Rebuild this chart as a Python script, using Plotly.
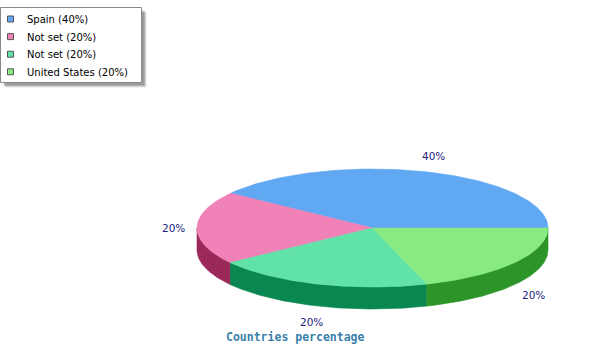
import numpy as np
import plotly.graph_objects as go

# ---- data ----
legend_labels = ["Spain (40%)", "Not set (20%)", "Not set (20%)", "United States (20%)"]
values = [40, 20, 20, 20]
slice_text = ["40%", "20%", "20%", "20%"]
title_text = "Countries percentage"

top_colors = ["#60a8f2", "#f082b8", "#60e2a8", "#88ea82"]
side_colors = ["#4a80c0", "#9a2858", "#088850", "#2c9428"]

# ---- geometry (pixel space) ----
CX, CY = 372.5, 228.0
RX, RY = 175.5, 59.0
DEPTH = 22.0
LRX, LRY = 199.0, 76.0

fig = go.Figure()

total = float(sum(values))
starts = []
a = 0.0
for v in values:
    starts.append(a)
    a += v / total * 2 * np.pi
ends = starts[1:] + [2 * np.pi]


def ell(t, dy=0.0):
    return CX + RX * np.cos(t), CY - RY * np.sin(t) + dy


# side walls (front half only: angles pi..2pi)
for s, e, col in zip(starts, ends, side_colors):
    lo, hi = max(s, np.pi), min(e, 2 * np.pi)
    if hi <= lo:
        continue
    t = np.linspace(lo, hi, 80)
    x1, y1 = ell(t)
    x2, y2 = ell(t[::-1], DEPTH)
    fig.add_trace(go.Scatter(x=np.concatenate([x1, x2, x1[:1]]),
                             y=np.concatenate([y1, y2, y1[:1]]),
                             mode="lines", fill="toself", fillcolor=col,
                             line=dict(width=0.6, color=col),
                             hoverinfo="skip", showlegend=False))

# top faces
for s, e, col in zip(starts, ends, top_colors):
    t = np.linspace(s, e, 120)
    x, y = ell(t)
    fig.add_trace(go.Scatter(x=np.concatenate([[CX], x, [CX]]),
                             y=np.concatenate([[CY], y, [CY]]),
                             mode="lines", fill="toself", fillcolor=col,
                             line=dict(width=0.6, color=col),
                             hoverinfo="skip", showlegend=False))

annotations = []
shapes = []
# slice labels
for s, e, txt in zip(starts, ends, slice_text):
    m = (s + e) / 2
    lx = CX + LRX * np.cos(m)
    ly = CY - LRY * np.sin(m) + (DEPTH if np.sin(m) < -1e-9 else 0)
    annotations.append(dict(x=lx, y=ly, text=txt, showarrow=False,
                            xanchor="center", yanchor="middle",
                            font=dict(family="DejaVu Sans", size=10.5, color="#1c1c80")))

# title
annotations.append(dict(x=295, y=337, text="<b>" + title_text + "</b>", showarrow=False,
                        xanchor="center", yanchor="middle",
                        font=dict(family="DejaVu Sans Mono", size=11.5, color="#3a80aa")))

# legend box with shadow
for off, op in [(5, 0.10), (4, 0.15), (3, 0.2)]:
    shapes.append(dict(type="rect", x0=0.5 + off, y0=7.5 + off, x1=141.5 + off, y1=82.5 + off,
                       xref="x", yref="y", line=dict(width=0),
                       fillcolor="rgba(0,0,0,%s)" % op, layer="above"))
shapes.append(dict(type="rect", x0=0.5, y0=7.5, x1=141.5, y1=82.5, xref="x", yref="y",
                   line=dict(width=1, color="#888888"), fillcolor="white", layer="above"))
for i, (lab, col, scol) in enumerate(zip(legend_labels, top_colors, side_colors)):
    yc = 19.5 + i * 17.6
    shapes.append(dict(type="rect", x0=7.5, y0=yc - 3.5, x1=13.5, y1=yc + 2.5,
                       xref="x", yref="y", line=dict(width=1, color="#555555"),
                       fillcolor=col, layer="above"))
    annotations.append(dict(x=25, y=yc, text=lab, showarrow=False,
                            xanchor="left", yanchor="middle",
                            font=dict(family="DejaVu Sans", size=10, color="#000000")))

fig.update_layout(
    width=600, height=350,
    margin=dict(l=0, r=0, t=0, b=0),
    paper_bgcolor="white", plot_bgcolor="white",
    xaxis=dict(range=[0, 600], visible=False, fixedrange=True),
    yaxis=dict(range=[350, 0], visible=False, fixedrange=True),
    shapes=shapes, annotations=annotations, showlegend=False,
)

fig.write_html("out.html")
